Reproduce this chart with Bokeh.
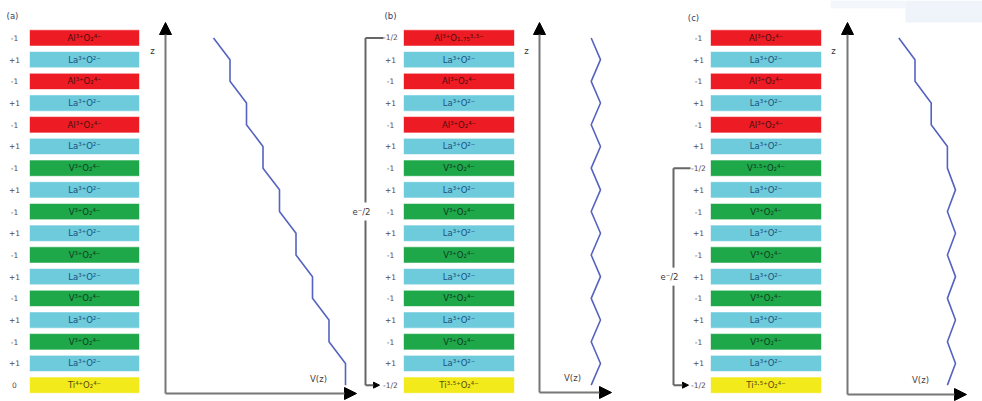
from bokeh.plotting import figure
from bokeh.models import Range1d, Arrow, NormalHead, ColumnDataSource
from bokeh.core.properties import value
from bokeh.embed import file_html
from bokeh.resources import INLINE

# ---------------- data ----------------
layers_a = ["Al³⁺O₂⁴⁻", "La³⁺O²⁻", "Al³⁺O₂⁴⁻", "La³⁺O²⁻", "Al³⁺O₂⁴⁻", "La³⁺O²⁻",
            "V³⁺O₂⁴⁻", "La³⁺O²⁻", "V³⁺O₂⁴⁻", "La³⁺O²⁻", "V³⁺O₂⁴⁻", "La³⁺O²⁻",
            "V³⁺O₂⁴⁻", "La³⁺O²⁻", "V³⁺O₂⁴⁻", "La³⁺O²⁻", "Ti⁴⁺O₂⁴⁻"]
layers_b = ["Al³⁺O₁.₇₅³·⁵⁻", "La³⁺O²⁻", "Al³⁺O₂⁴⁻", "La³⁺O²⁻", "Al³⁺O₂⁴⁻", "La³⁺O²⁻",
            "V³⁺O₂⁴⁻", "La³⁺O²⁻", "V³⁺O₂⁴⁻", "La³⁺O²⁻", "V³⁺O₂⁴⁻", "La³⁺O²⁻",
            "V³⁺O₂⁴⁻", "La³⁺O²⁻", "V³⁺O₂⁴⁻", "La³⁺O²⁻", "Ti³·⁵⁺O₂⁴⁻"]
layers_c = ["Al³⁺O₂⁴⁻", "La³⁺O²⁻", "Al³⁺O₂⁴⁻", "La³⁺O²⁻", "Al³⁺O₂⁴⁻", "La³⁺O²⁻",
            "V³·⁵⁺O₂⁴⁻", "La³⁺O²⁻", "V³⁺O₂⁴⁻", "La³⁺O²⁻", "V³⁺O₂⁴⁻", "La³⁺O²⁻",
            "V³⁺O₂⁴⁻", "La³⁺O²⁻", "V³⁺O₂⁴⁻", "La³⁺O²⁻", "Ti³·⁵⁺O₂⁴⁻"]

charges_a = ["-1", "+1", "-1", "+1", "-1", "+1", "-1", "+1", "-1", "+1", "-1", "+1",
             "-1", "+1", "-1", "+1", "0"]
charges_b = ["-1/2", "+1", "-1", "+1", "-1", "+1", "-1", "+1", "-1", "+1", "-1", "+1",
             "-1", "+1", "-1", "+1", "-1/2"]
charges_c = ["-1", "+1", "-1", "+1", "-1", "+1", "-1/2", "+1", "-1", "+1", "-1", "+1",
             "-1", "+1", "-1", "+1", "-1/2"]

potential_a = [0, 1, 1, 2, 2, 3, 3, 4, 4, 5, 5, 6, 6, 7, 7, 8, 8]
potential_b = [0, 1, 0, 1, 0, 1, 0, 1, 0, 1, 0, 1, 0, 1, 0, 1, 0]
potential_c = [0, 1, 1, 2, 2, 3, 3, 3.5, 3, 3.5, 3, 3.5, 3, 3.5, 3, 3.5, 3]

panel_labels = ["(a)", "(b)", "(c)"]
bracket_label = "e⁻/2"
axis_z = "z"
axis_v = "V(z)"

# ---------------- layout / style ----------------
TOP0 = 29.3
PITCH = 21.7
LH = 16.3

fill_colors = {"Al": "#ED1C24", "La": "#6DCBDC", "V³": "#1EA84A", "Ti": "#F3EA1C"}
text_colors = {"Al": "#4a0c0c", "La": "#1b4f80", "V³": "#0f3a1e", "Ti": "#5a4a10"}
FONT = value("DejaVu Sans")

panels = [
    dict(layers=layers_a, charges=charges_a, pot=potential_a, lx0=29, lx1=139, cx=14,
         ax=165, ay_top=22, ay_bot=393, ax_end=356, pv0=213, pu=16.5,
         zx=152, vx=318, lab=(12, 15)),
    dict(layers=layers_b, charges=charges_b, pot=potential_b, lx0=403, lx1=514, cx=390,
         ax=539, ay_top=22, ay_bot=392, ax_end=611, pv0=590.7, pu=9.3,
         zx=526, vx=572, lab=(390, 15)),
    dict(layers=layers_c, charges=charges_c, pot=potential_c, lx0=710, lx1=821, cx=698,
         ax=847, ay_top=22, ay_bot=394, ax_end=966, pv0=898.3, pu=16.2,
         zx=833, vx=920, lab=(693, 17)),
]

p = figure(width=982, height=401, x_range=Range1d(0, 982), y_range=Range1d(401, 0),
           output_backend="svg", toolbar_location=None, min_border=0)
p.axis.visible = False
p.grid.visible = False
p.outline_line_color = None
p.background_fill_color = "white"

# faint artifact band at top right
p.quad(left=[905], right=[982], top=[0], bottom=[22], fill_color="#eef4fa", line_color=None)
p.quad(left=[830], right=[905], top=[0], bottom=[8], fill_color="#f3f7fb", line_color=None)

for k, pn in enumerate(panels):
    n = len(pn["layers"])
    tops = [TOP0 + i * PITCH for i in range(n)]
    bots = [t + LH for t in tops]
    mids = [t + LH / 2 for t in tops]
    keys = [s[:2] for s in pn["layers"]]
    src = ColumnDataSource(dict(
        top=tops, bottom=bots, mid=mids,
        left=[pn["lx0"]] * n, right=[pn["lx1"]] * n,
        xc=[(pn["lx0"] + pn["lx1"]) / 2] * n, cx=[pn["cx"]] * n,
        name=pn["layers"], charge=pn["charges"],
        fill=[fill_colors[s] for s in keys], tcol=[text_colors[s] for s in keys],
    ))
    p.quad(left="left", right="right", top="top", bottom="bottom", fill_color="fill",
           line_color="white", line_alpha=0.6, line_width=1, source=src)
    p.text(x="xc", y="mid", text="name", text_color="tcol", text_align="center",
           text_baseline="middle", text_font=FONT, text_font_size=value("8.5px"), source=src)
    p.text(x="cx", y="mid", text="charge", text_color="#5a4848", text_align="center",
           text_baseline="middle", text_font=FONT, text_font_size=value("7.5px"), source=src)

    # panel label
    p.text(x=[pn["lab"][0]], y=[pn["lab"][1]], text=[panel_labels[k]], text_color="#3a3a5a",
           text_align="center", text_baseline="middle", text_font=FONT,
           text_font_size=value("8.5px"))

    # axes
    p.add_layout(Arrow(end=NormalHead(size=12, fill_color="black", line_color="black"),
                       x_start=pn["ax"], y_start=pn["ay_bot"], x_end=pn["ax"], y_end=pn["ay_top"],
                       line_color="#777777", line_width=2))
    p.add_layout(Arrow(end=NormalHead(size=12, fill_color="black", line_color="black"),
                       x_start=pn["ax"], y_start=pn["ay_bot"], x_end=pn["ax_end"], y_end=pn["ay_bot"],
                       line_color="#777777", line_width=2))
    p.text(x=[pn["zx"]], y=[50], text=[axis_z], text_color="#333333", text_align="center",
           text_baseline="middle", text_font=FONT, text_font_size=value("8.5px"))
    p.text(x=[pn["vx"]], y=[pn["ay_bot"] - 15], text=[axis_v], text_color="#4a3a3a",
           text_align="center", text_baseline="middle", text_font=FONT,
           text_font_size=value("8.5px"))

    # potential
    px = [pn["pv0"] + v * pn["pu"] for v in pn["pot"]]
    p.line(x=px, y=mids, line_color="#5563c0", line_width=1.6)

# brackets (e-/2 transfer)
brackets = [
    dict(x=365, y0=TOP0 + LH / 2, y1=TOP0 + 16 * PITCH + LH / 2, xh=383, xa=379),
    dict(x=673, y0=TOP0 + 6 * PITCH + LH / 2, y1=TOP0 + 16 * PITCH + LH / 2, xh=690, xa=688),
]
for b in brackets:
    ymid = (b["y0"] + b["y1"]) / 2
    p.segment(x0=[b["x"], b["x"], b["x"]], y0=[b["y0"], b["y0"], ymid + 9],
              x1=[b["xh"], b["x"], b["x"]], y1=[b["y0"], ymid - 9, b["y1"]],
              line_color="#666666", line_width=2)
    p.add_layout(Arrow(end=NormalHead(size=6, fill_color="black", line_color="black"),
                       x_start=b["x"], y_start=b["y1"], x_end=b["xa"], y_end=b["y1"],
                       line_color="#666666", line_width=2))
    p.text(x=[b["x"] - 4], y=[ymid], text=[bracket_label], text_color="#3a3a3a",
           text_align="center", text_baseline="middle", text_font=FONT,
           text_font_size=value("8.5px"))

open("out.html", "w").write(file_html(p, INLINE))
